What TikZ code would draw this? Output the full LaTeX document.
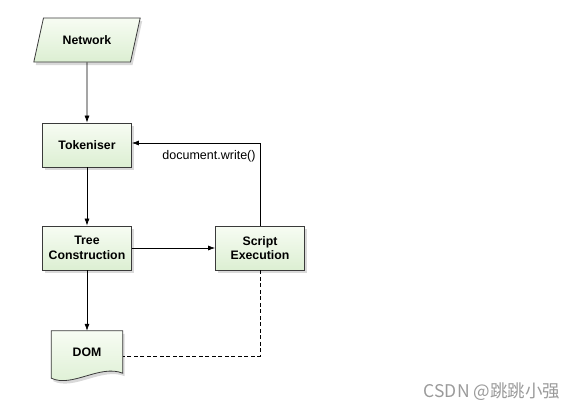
\documentclass[tikz,border=0pt]{standalone}
\usepackage{fontspec}
\setmainfont{Liberation Sans}
\newfontfamily\cjkfont{Noto Sans CJK SC}
\usepackage{tikz}
\usetikzlibrary{arrows.meta, shapes.geometric, shadows, backgrounds}
\definecolor{boxtop}{HTML}{F7FCF3}
\definecolor{boxbottom}{HTML}{DCEFD2}
\definecolor{boxline}{HTML}{3A3A3A}
\definecolor{markgray}{HTML}{9A9A9A}

\begin{document}
\begin{tikzpicture}[x=1pt, y=-1pt,
    flowbox/.style={draw=boxline, line width=0.8pt, top color=boxtop, bottom color=boxbottom,
          drop shadow={shadow xshift=2pt, shadow yshift=-3pt, opacity=0.3},
          minimum width=89pt, minimum height=44pt, inner sep=1pt, align=center,
          font=\bfseries\fontsize{12.3}{14.5}\selectfont},
    inputbox/.style={flowbox, trapezium, trapezium left angle=63, trapezium right angle=117,
          trapezium stretches=true, minimum width=107pt},
    flow/.style={line width=0.7pt, -{Latex[length=7pt, width=5pt]}}]
  \useasboundingbox (0,0) rectangle (569,410);

  \node[inputbox] (network) at (87,40) {Network};
  \node[flowbox] (tokeniser) at (87,145) {Tokeniser};
  \node[flowbox] (tree) at (87,248) {Tree\\Construction};
  \node[flowbox] (script) at (260,248) {Script\\Execution};
  \node[font=\bfseries\fontsize{12.3}{14.5}\selectfont, minimum width=71pt, minimum height=42pt,
        inner sep=0pt] (dom) at (87,352) {DOM};
  \begin{scope}[on background layer]
    \draw[draw=boxline, line width=0.8pt, top color=boxtop, bottom color=boxbottom,
          drop shadow={shadow xshift=2pt, shadow yshift=-3pt, opacity=0.3}]
      (dom.north west) -- (dom.north east) -- (dom.south east)
      .. controls (100,364) and (72,388) .. ([yshift=-5pt]dom.south west) -- cycle;
  \end{scope}

  \coordinate (turn) at (script.north |- 0,143);
  \coordinate (bend) at (script.south |- 0,356);

  \draw[flow] (network) -- (tokeniser);
  \draw[flow] (tokeniser) -- (tree);
  \draw[flow] (tree) -- (script);
  \draw[flow] (tree) -- (dom);
  \draw[flow] (script.north) -- (turn) -- (tokeniser.east |- turn);
  \node[font=\fontsize{12.5}{14}\selectfont] (write) at (209,156) {document.write()};
  \draw[line width=0.7pt, dash pattern=on 4pt off 2.5pt] (script.south) -- (bend) -- (dom.east |- bend);

  \node[text=markgray, font=\cjkfont\fontsize{17.5}{19}\selectfont] (mark) at (492,392) {CSDN @跳跳小强};
\end{tikzpicture}
\end{document}
